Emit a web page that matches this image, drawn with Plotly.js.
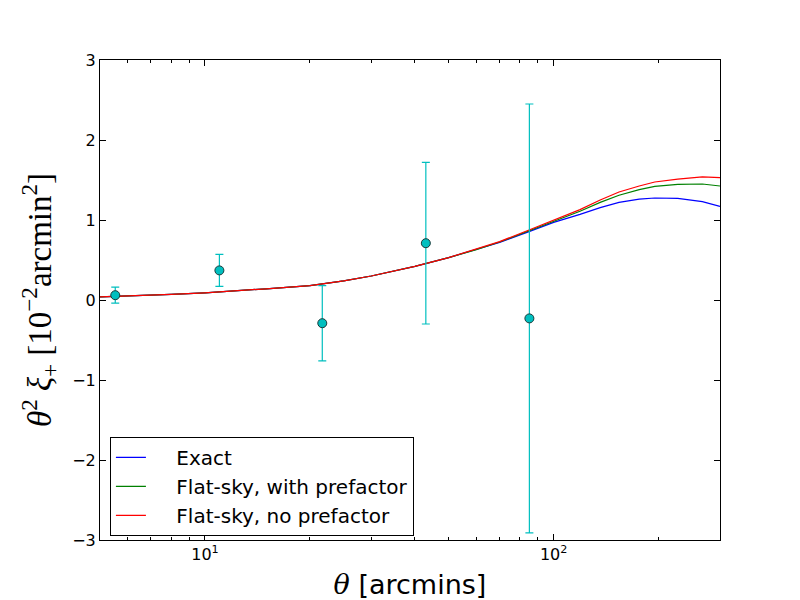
<!DOCTYPE html>
<html>
<head>
<meta charset="utf-8">
<script src="https://cdn.plot.ly/plotly-3.0.1.min.js"></script>
<style>
  html, body { margin: 0; padding: 0; background: #fff; }
  #myDiv { width: 800px; height: 600px; }
</style>
</head>
<body>
<div id="myDiv"></div>
<script>
// angular separation grid for the model curves (arcmin)
var theta = [5, 6, 7, 8, 10, 12, 15, 20, 25, 30, 40, 50, 60, 70, 85, 100, 119, 136, 154, 176, 195, 227, 267, 300];

// theta^2 xi_+ in units of 1e-2 arcmin^2
var exact      = [0.04, 0.05, 0.06, 0.07, 0.09, 0.11, 0.14, 0.18, 0.24, 0.30, 0.42, 0.53, 0.63, 0.72, 0.855, 0.97, 1.07, 1.155, 1.22, 1.26, 1.275, 1.27, 1.23, 1.17];
var flatPref   = [0.04, 0.05, 0.06, 0.07, 0.09, 0.11, 0.14, 0.18, 0.24, 0.30, 0.42, 0.53, 0.63, 0.725, 0.865, 0.99, 1.11, 1.22, 1.31, 1.38, 1.42, 1.445, 1.45, 1.425];
var flatNoPref = [0.04, 0.05, 0.06, 0.07, 0.09, 0.11, 0.14, 0.18, 0.24, 0.30, 0.42, 0.53, 0.635, 0.73, 0.875, 1.00, 1.13, 1.25, 1.35, 1.425, 1.475, 1.51, 1.54, 1.53];

// measured points with errors
var thetaObs = [5.53, 11.0, 21.7, 43.0, 85.2];
var xiObs    = [0.06, 0.37, -0.29, 0.71, -0.23];
var xiErr    = [0.10, 0.20, 0.47, 1.01, 2.68];

var tickVals  = [10, 100];
var tickText  = ['10<sup>1</sup>', '10<sup>2</sup>'];
var minorVals = [5, 6, 7, 8, 9, 20, 30, 40, 50, 60, 70, 80, 90, 200, 300];

var pad = '\u00a0\u00a0\u00a0\u00a0';

var data = [
  {
    x: theta, y: exact, name: pad + 'Exact',
    type: 'scatter', mode: 'lines',
    line: {color: '#0000ff', width: 1.2}
  },
  {
    x: theta, y: flatPref, name: pad + 'Flat-sky, with prefactor',
    type: 'scatter', mode: 'lines',
    line: {color: '#008000', width: 1.2}
  },
  {
    x: theta, y: flatNoPref, name: pad + 'Flat-sky, no prefactor',
    type: 'scatter', mode: 'lines',
    line: {color: '#ff0000', width: 1.2}
  },
  {
    x: thetaObs, y: xiObs, showlegend: false,
    type: 'scatter', mode: 'markers',
    marker: {color: '#00bfbf', size: 9, line: {color: '#1a3a3a', width: 1}},
    error_y: {type: 'data', array: xiErr, visible: true, color: '#00bfbf', thickness: 1.2, width: 4}
  }
];

var layout = {
  width: 800,
  height: 600,
  margin: {l: 100, r: 80, t: 60, b: 60},
  paper_bgcolor: '#fff',
  plot_bgcolor: '#fff',
  font: {family: 'DejaVu Sans', size: 16, color: '#000'},
  showlegend: true,
  legend: {
    x: 0.016, y: 0.215, xanchor: 'left', yanchor: 'top',
    bgcolor: '#fff', bordercolor: '#000', borderwidth: 1,
    font: {family: 'DejaVu Sans', size: 20, color: '#000'}
  },
  xaxis: {
    type: 'log',
    range: [Math.log10(5), Math.log10(300)],
    tickmode: 'array', tickvals: tickVals, ticktext: tickText,
    ticks: 'inside', ticklen: 6, tickcolor: '#000',
    minor: {tickmode: 'array', tickvals: minorVals, ticks: 'inside', ticklen: 3, tickcolor: '#000'},
    showline: true, linecolor: '#000', linewidth: 1, mirror: 'allticks',
    showgrid: false, zeroline: false,
    title: {
      text: '<i style="font-family:DejaVu Serif">θ</i> [arcmins]',
      font: {family: 'DejaVu Sans', size: 27},
      standoff: 20
    }
  },
  yaxis: {
    range: [-3, 3],
    tickmode: 'linear', tick0: 0, dtick: 1,
    ticks: 'inside', ticklen: 6, tickcolor: '#000',
    showline: true, linecolor: '#000', linewidth: 1, mirror: 'allticks',
    showgrid: false, zeroline: false,
    title: {
      text: '<i>θ</i><sup>2</sup> <i>ξ</i><sub>+</sub> [10<sup>−2</sup>arcmin<sup>2</sup>]',
      font: {family: 'Liberation Serif', size: 33},
      standoff: 10
    }
  }
};

Plotly.newPlot('myDiv', data, layout, {staticPlot: true});
</script>
</body>
</html>
